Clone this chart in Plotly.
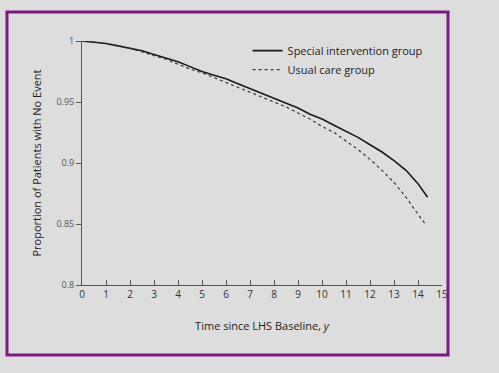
import plotly.graph_objects as go

# Time (years) and survival proportions
t_special = [0, 0.5, 1, 1.5, 2, 2.5, 3, 3.5, 4, 4.5, 5, 5.5, 6, 6.5, 7, 7.5, 8, 8.5,
             9, 9.5, 10, 10.5, 11, 11.5, 12, 12.5, 13, 13.5, 14, 14.4]
y_special = [1.0, 0.999, 0.998, 0.996, 0.994, 0.992, 0.989, 0.986, 0.983, 0.979, 0.975,
             0.972, 0.969, 0.965, 0.961, 0.957, 0.953, 0.949, 0.945, 0.940, 0.936, 0.931,
             0.926, 0.921, 0.915, 0.909, 0.902, 0.894, 0.883, 0.872]

t_usual = [0, 0.5, 1, 1.5, 2, 2.5, 3, 3.5, 4, 4.5, 5, 5.5, 6, 6.5, 7, 7.5, 8, 8.5,
           9, 9.5, 10, 10.5, 11, 11.5, 12, 12.5, 13, 13.5, 14, 14.3]
y_usual = [1.0, 0.999, 0.998, 0.996, 0.994, 0.991, 0.988, 0.985, 0.981, 0.977, 0.974,
           0.970, 0.966, 0.962, 0.958, 0.954, 0.950, 0.946, 0.941, 0.936, 0.930, 0.925,
           0.918, 0.911, 0.903, 0.894, 0.884, 0.872, 0.858, 0.850]

x_ticks = list(range(0, 16))
y_ticks = [0.8, 0.85, 0.9, 0.95, 1.0]
y_tick_labels = ["0.8", "0.85", "0.9", "0.95", "1"]

series_names = ["Special intervention group", "Usual care group"]

FONT = "Open Sans, Liberation Sans, sans-serif"
fig = go.Figure()
fig.add_trace(go.Scatter(x=t_special, y=y_special, mode="lines", name=series_names[0],
                         line=dict(color="#1a1a1a", width=1.6)))
fig.add_trace(go.Scatter(x=t_usual, y=y_usual, mode="lines", name=series_names[1],
                         line=dict(color="#3a3a3a", width=1.2, dash="dot")))

fig.update_layout(
    width=499, height=373,
    margin=dict(l=82, r=57, t=41, b=88),
    paper_bgcolor="#dddddd", plot_bgcolor="#dddddd",
    font=dict(family=FONT, color="#333333", size=10),
    showlegend=True,
    legend=dict(x=0.46, y=1.02, xanchor="left", yanchor="top",
                bgcolor="rgba(0,0,0,0)", font=dict(size=11, color="#222222"),
                itemwidth=30, tracegroupgap=0),
    xaxis=dict(range=[0, 15], tickvals=x_ticks, ticktext=[str(v) for v in x_ticks],
               showgrid=False, zeroline=False, showline=True, linecolor="#555555",
               linewidth=1, ticks="inside", ticklen=5, tickcolor="#555555",
               tickfont=dict(size=10, color="#333333"),
               title=dict(text="Time since LHS Baseline, <i>y</i>",
                          font=dict(size=11, color="#222222"), standoff=22)),
    yaxis=dict(range=[0.8, 1.0], tickvals=y_ticks, ticktext=y_tick_labels,
               showgrid=False, zeroline=False, showline=True, linecolor="#555555",
               linewidth=1, ticks="outside", ticklen=5, tickcolor="#555555",
               tickfont=dict(size=9, color="#555555"),
               title=dict(text="Proportion of Patients with No Event",
                          font=dict(size=11, color="#222222"), standoff=12)),
    shapes=[dict(type="rect", xref="paper", yref="paper",
                 x0=-75/360, x1=366/360, y0=-(355-285)/244, y1=(285-12)/244,
                 line=dict(color="#7a1a80", width=3), fillcolor="rgba(0,0,0,0)",
                 layer="above")],
)

fig.write_html("out.html", config={"displayModeBar": False},
               post_script="document.body.style.margin='0';")
